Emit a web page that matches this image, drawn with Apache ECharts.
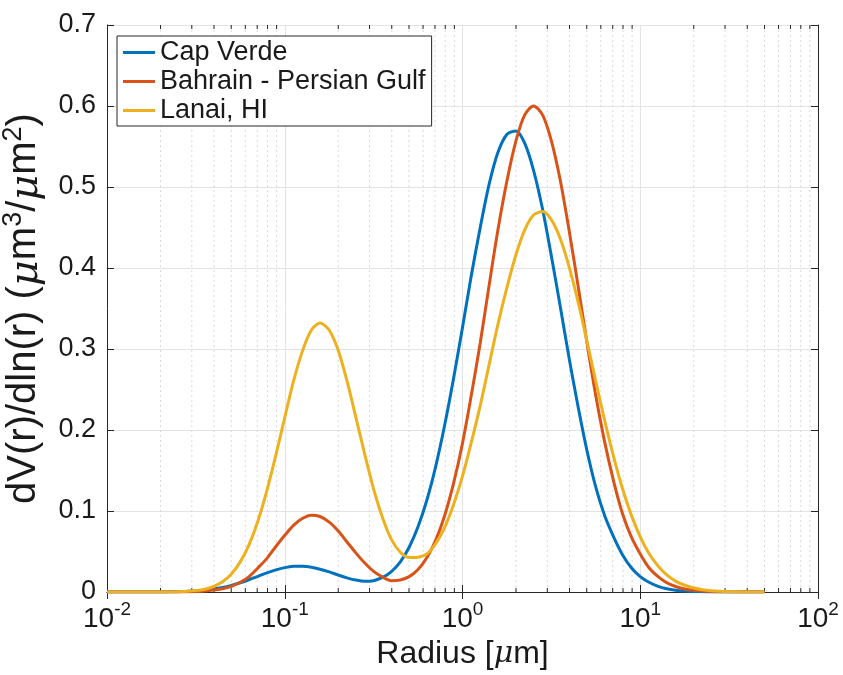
<!DOCTYPE html>
<html>
<head>
<meta charset="utf-8">
<script src="https://cdn.jsdelivr.net/npm/echarts@6/dist/echarts.min.js"></script>
<style>
html,body{margin:0;padding:0;background:#fff;}
#chart{width:843px;height:675px;}
</style>
</head>
<body>
<div id="chart"></div>
<script>
// Radius sample points (micrometres), log spaced by 0.05 decade
const radius = [0.01, 0.0112, 0.0126, 0.0141, 0.0158, 0.0178, 0.02, 0.0224, 0.0251, 0.0282,
  0.0316, 0.0355, 0.0398, 0.0447, 0.0501, 0.0562, 0.0631, 0.0708, 0.0794, 0.0891,
  0.1, 0.112, 0.126, 0.141, 0.158, 0.178, 0.2, 0.224, 0.251, 0.282,
  0.316, 0.355, 0.398, 0.447, 0.501, 0.562, 0.631, 0.708, 0.794, 0.891,
  1, 1.12, 1.26, 1.41, 1.58, 1.78, 2, 2.24, 2.51, 2.82,
  3.16, 3.55, 3.98, 4.47, 5.01, 5.62, 6.31, 7.08, 7.94, 8.91,
  10, 11.2, 12.6, 14.1, 15.8, 17.8, 20, 22.4, 25.1, 28.2,
  31.6, 35.5, 39.8, 44.7, 50];

const capVerde = [0, 0, 0, 0, 0, 0.0001, 0.0001, 0.0002, 0.0004, 0.0008,
  0.0013, 0.0022, 0.0036, 0.0056, 0.0082, 0.0114, 0.0153, 0.0194, 0.0236, 0.0273,
  0.0301, 0.0317, 0.0319, 0.0306, 0.0281, 0.0248, 0.0210, 0.0175, 0.0147, 0.0132,
  0.0140, 0.0180, 0.0253, 0.0373, 0.0553, 0.0805, 0.1139, 0.1558, 0.2061, 0.2639,
  0.3266, 0.3903, 0.4507, 0.5030, 0.5424, 0.5652, 0.5691, 0.5538, 0.5206, 0.4729,
  0.4152, 0.3522, 0.2886, 0.2287, 0.1750, 0.1294, 0.0940, 0.0680, 0.0460, 0.0300,
  0.0190, 0.0120, 0.0070, 0.0040, 0.0022, 0.0012, 0.0006, 0.0003, 0.0001, 0.0001,
  0, 0, 0, 0, 0];

const bahrain = [0, 0, 0, 0, 0, 0, 0, 0, 0.0001, 0.0002,
  0.0005, 0.0011, 0.0023, 0.0040, 0.0070, 0.0120, 0.0190, 0.0300, 0.0415, 0.0562,
  0.0700, 0.0823, 0.0910, 0.0949, 0.0932, 0.0862, 0.0752, 0.0618, 0.0483, 0.0357,
  0.0255, 0.0185, 0.0140, 0.0149, 0.0190, 0.0278, 0.0426, 0.0644, 0.0945, 0.1343,
  0.1837, 0.2425, 0.3083, 0.3779, 0.4463, 0.5080, 0.5572, 0.5890, 0.6000, 0.5890,
  0.5572, 0.5080, 0.4463, 0.3779, 0.3083, 0.2425, 0.1850, 0.1370, 0.0970, 0.0680,
  0.0470, 0.0300, 0.0190, 0.0115, 0.0068, 0.0038, 0.0020, 0.0011, 0.0005, 0.0003,
  0.0001, 0.0001, 0, 0, 0];

const lanai = [0, 0, 0, 0, 0, 0, 0.0001, 0.0001, 0.0003, 0.0008,
  0.0017, 0.0034, 0.0068, 0.0126, 0.0222, 0.0372, 0.0588, 0.0882, 0.1254, 0.1689,
  0.2154, 0.2603, 0.2980, 0.3231, 0.3320, 0.3231, 0.2982, 0.2606, 0.2160, 0.1700,
  0.1274, 0.0918, 0.0649, 0.0490, 0.0425, 0.0430, 0.0470, 0.0600, 0.0798, 0.1080,
  0.1430, 0.1844, 0.2308, 0.2801, 0.3297, 0.3763, 0.4166, 0.4471, 0.4654, 0.4697,
  0.4597, 0.4362, 0.4015, 0.3582, 0.3101, 0.2601, 0.2116, 0.1670, 0.1278, 0.0949,
  0.0682, 0.0476, 0.0321, 0.0211, 0.0134, 0.0083, 0.0050, 0.0029, 0.0016, 0.0009,
  0.0005, 0.0002, 0.0001, 0.0001, 0];

const seriesNames = ['Cap Verde', 'Bahrain - Persian Gulf', 'Lanai, HI'];
const seriesColors = ['#0072BD', '#D95319', '#EDB120'];
const seriesValues = [capVerde, bahrain, lanai];

// minor log grid positions (2..9 x each decade)
const minorDecades = [0.01, 0.1, 1, 10];
const minorMultipliers = [2, 3, 4, 5, 6, 7, 8, 9];
const minorValues = [];
minorDecades.forEach(d => minorMultipliers.forEach(m => minorValues.push([+(m * d).toPrecision(3)])));

const FONT = '"Liberation Sans", Arial, Helvetica, sans-serif';
const TXT = '#1a1a1a';
const AX = '#262626';
const YMAX = 0.7;

const chart = echarts.init(document.getElementById('chart'), null, {renderer: 'canvas'});

const lineSeries = seriesNames.map((name, i) => ({
  name: name,
  type: 'line',
  xAxisIndex: 0,
  yAxisIndex: 0,
  data: radius.map((r, k) => [r, seriesValues[i][k]]),
  showSymbol: false,
  symbol: 'none',
  smooth: 0.3,
  z: 5,
  lineStyle: {color: seriesColors[i], width: 3},
  itemStyle: {color: seriesColors[i]}
}));

const minorSeries = {
  type: 'custom',
  name: 'minorGrid',
  xAxisIndex: 0,
  yAxisIndex: 0,
  silent: true,
  z: 1,
  data: minorValues,
  encode: {x: 0},
  renderItem: function (params, api) {
    const x = api.value(0);
    const p0 = api.coord([x, 0]);
    const p1 = api.coord([x, YMAX]);
    return {
      type: 'group',
      children: [
        {type: 'line', shape: {x1: p0[0], y1: p0[1], x2: p1[0], y2: p1[1]},
         style: {stroke: '#d9d9d9', lineWidth: 1, lineDash: [2, 3]}},
        {type: 'line', shape: {x1: p0[0], y1: p0[1], x2: p0[0], y2: p0[1] - 4},
         style: {stroke: AX, lineWidth: 1}},
        {type: 'line', shape: {x1: p1[0], y1: p1[1], x2: p1[0], y2: p1[1] + 4},
         style: {stroke: AX, lineWidth: 1}}
      ]
    };
  }
};

const option = {
  backgroundColor: '#ffffff',
  animation: false,
  textStyle: {fontFamily: FONT, color: TXT},
  grid: {left: 107, right: 25, top: 25, bottom: 83, containLabel: false, outerBoundsMode: 'none'},
  legend: {
    data: seriesNames,
    orient: 'vertical',
    left: 117,
    top: 36,
    itemWidth: 32,
    itemHeight: 14,
    itemGap: 2,
    padding: [3, 6, 2, 6],
    borderColor: '#262626',
    borderWidth: 1,
    backgroundColor: '#ffffff',
    icon: 'path://M0,5.5 L32,5.5 L32,8.5 L0,8.5 Z',
    textStyle: {fontFamily: FONT, fontSize: 27, color: TXT, lineHeight: 25, padding: [0, 0, 0, 0]}
  },
  xAxis: [{
    type: 'log',
    logBase: 10,
    min: 0.01,
    max: 100,
    splitNumber: 4,
    position: 'bottom',
    name: 'Radius [{g|μ}m]',
    nameLocation: 'middle',
    nameGap: 42,
    nameTextStyle: {fontFamily: FONT, fontSize: 32, color: TXT,
      rich: {g: {fontFamily: 'DejaVu Serif', fontStyle: 'italic', fontSize: 30, color: TXT}}},
    axisLine: {show: true, lineStyle: {color: AX, width: 1}},
    axisTick: {show: true, inside: true, length: 7, lineStyle: {color: AX}},
    minorTick: {show: false},
    splitLine: {show: true, lineStyle: {color: '#e3e3e3', width: 1}},
    axisLabel: {
      margin: 7,
      color: TXT,
      fontFamily: FONT,
      formatter: function (v) {
        const e = Math.round(Math.log10(v));
        return '{b|10}{s|' + e + '}';
      },
      rich: {
        b: {fontSize: 28, fontFamily: FONT, color: TXT, verticalAlign: 'bottom', lineHeight: 34},
        s: {fontSize: 19, fontFamily: FONT, color: TXT, verticalAlign: 'bottom', lineHeight: 34, padding: [0, 0, 14, 0]}
      }
    }
  }, {
    type: 'log',
    logBase: 10,
    min: 0.01,
    max: 100,
    splitNumber: 4,
    position: 'top',
    axisLine: {show: true, lineStyle: {color: AX, width: 1}},
    axisTick: {show: true, inside: true, length: 7, lineStyle: {color: AX}},
    axisLabel: {show: false},
    splitLine: {show: false}
  }],
  yAxis: [{
    type: 'value',
    min: 0,
    max: YMAX,
    interval: 0.1,
    position: 'left',
    name: 'dV(r)/dln(r) ({g|μ}m{s|3}/{g|μ}m{s|2})',
    nameLocation: 'middle',
    nameGap: 60,
    nameRotate: 90,
    nameTextStyle: {fontFamily: FONT, fontSize: 40, color: TXT,
      rich: {
        g: {fontFamily: 'DejaVu Serif', fontStyle: 'italic', fontSize: 40, color: TXT, verticalAlign: 'bottom', lineHeight: 46},
        s: {fontFamily: FONT, fontSize: 27, color: TXT, verticalAlign: 'bottom', lineHeight: 46, padding: [0, 0, 20, 0]}
      }},
    axisLine: {show: true, lineStyle: {color: AX, width: 1}},
    axisTick: {show: true, inside: true, length: 7, lineStyle: {color: AX}},
    splitLine: {show: true, lineStyle: {color: '#e3e3e3', width: 1}},
    axisLabel: {margin: 11, fontSize: 27, fontFamily: FONT, color: TXT,
      formatter: function (v) { return String(Math.round(v * 10) / 10); }}
  }, {
    type: 'value',
    min: 0,
    max: YMAX,
    interval: 0.1,
    position: 'right',
    axisLine: {show: true, lineStyle: {color: AX, width: 1}},
    axisTick: {show: true, inside: true, length: 7, lineStyle: {color: AX}},
    axisLabel: {show: false},
    splitLine: {show: false}
  }],
  series: [minorSeries].concat(lineSeries)
};

chart.setOption(option);
</script>
</body>
</html>
